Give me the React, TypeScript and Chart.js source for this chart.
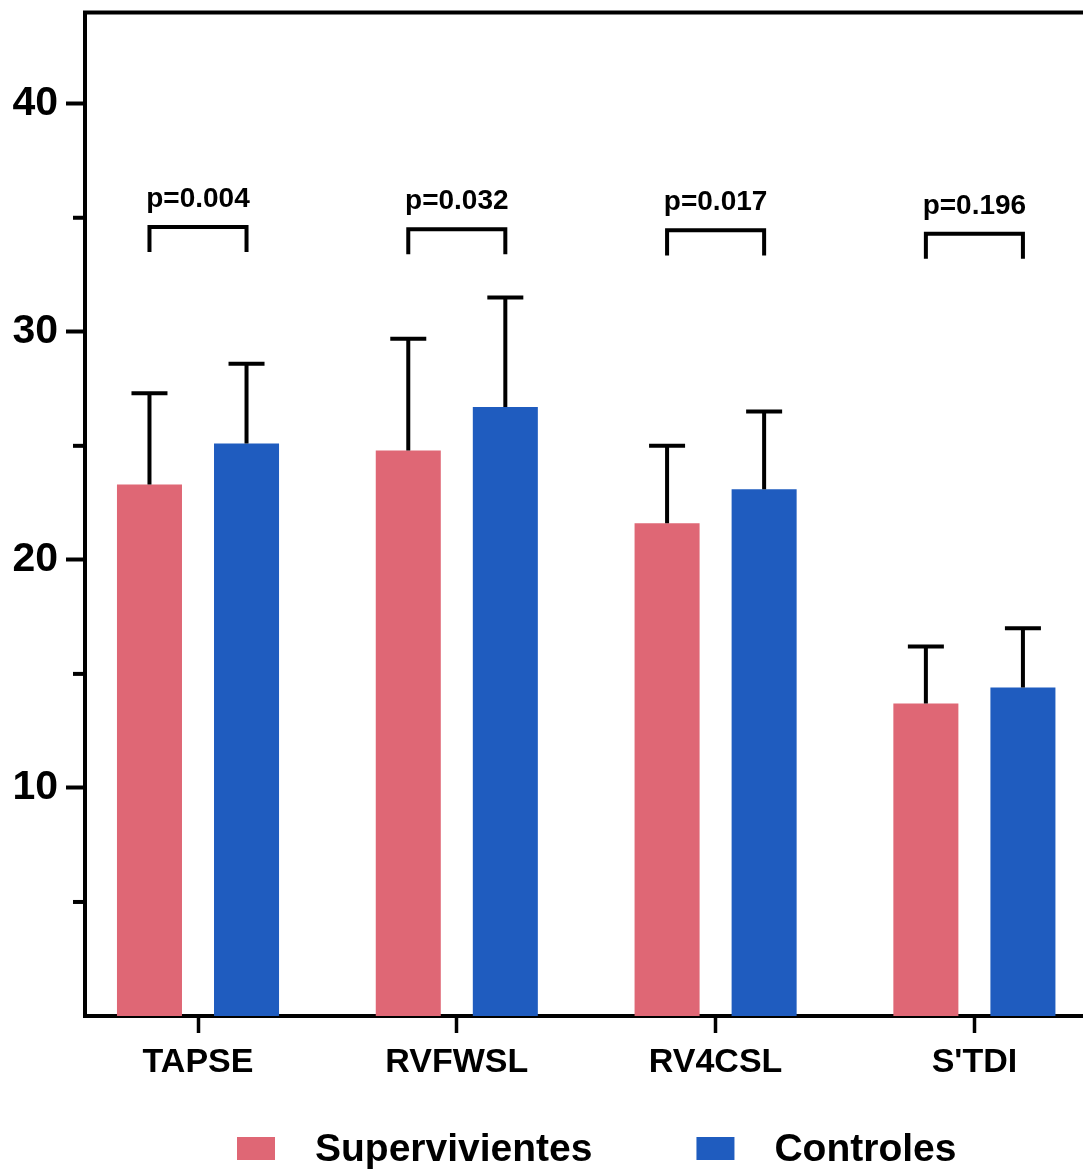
import React, { useEffect, useRef } from 'react';
import { Chart, registerables } from 'chart.js';

Chart.register(...registerables);

const categories = ['TAPSE', 'RVFWSL', 'RV4CSL', "S'TDI"];
const seriesNames = ['Supervivientes', 'Controles'];
const supervivientes = [23.3, 24.8, 21.6, 13.7];
const supervivientesSD = [4.0, 4.9, 3.4, 2.5];
const controles = [25.1, 26.7, 23.1, 14.4];
const controlesSD = [3.5, 4.8, 3.4, 2.6];
const pValues = ['p=0.004', 'p=0.032', 'p=0.017', 'p=0.196'];
const bracketLevels = [34.6, 34.5, 34.45, 34.3];
const bracketDrop = 1.1;
const yMajorTicks = [10, 20, 30, 40];
const yMinorTicks = [5, 15, 25, 35];
const categoryPositions = [0, 1, 2, 3];

const RED = '#DF6775';
const BLUE = '#1F5CBF';
const FONT = "'Liberation Sans', Arial, Helvetica, sans-serif";

const W = 1083;
const H = 1171;

const errorPlugin = {
  id: 'errorBars',
  afterDatasetsDraw(chart: any) {
    const ctx = chart.ctx;
    const yScale = chart.scales.y;
    const sds = [supervivientesSD, controlesSD];
    const vals = [supervivientes, controles];
    ctx.save();
    ctx.strokeStyle = '#000';
    ctx.lineWidth = 4;
    ctx.lineCap = 'butt';
    for (let d = 0; d < 2; d++) {
      const meta = chart.getDatasetMeta(d);
      meta.data.forEach((el: any, j: number) => {
        const x = el.x;
        const yTop = el.y;
        const yCap = yScale.getPixelForValue(vals[d][j] + sds[d][j]);
        ctx.beginPath();
        ctx.moveTo(x, yTop);
        ctx.lineTo(x, yCap);
        ctx.moveTo(x - 18, yCap);
        ctx.lineTo(x + 18, yCap);
        ctx.stroke();
      });
    }
    // significance brackets
    const m0 = chart.getDatasetMeta(0);
    const m1 = chart.getDatasetMeta(1);
    ctx.lineJoin = 'miter';
    ctx.font = `bold 28px ${FONT}`;
    ctx.fillStyle = '#000';
    ctx.textAlign = 'center';
    ctx.textBaseline = 'alphabetic';
    categories.forEach((_, j) => {
      const x0 = m0.data[j].x;
      const x1 = m1.data[j].x;
      const yb = yScale.getPixelForValue(bracketLevels[j]);
      const yl = yScale.getPixelForValue(bracketLevels[j] - bracketDrop);
      ctx.beginPath();
      ctx.moveTo(x0, yl);
      ctx.lineTo(x0, yb);
      ctx.lineTo(x1, yb);
      ctx.lineTo(x1, yl);
      ctx.stroke();
      ctx.fillText(pValues[j], (x0 + x1) / 2, yb - 20);
    });
    // top frame line
    const a = chart.chartArea;
    ctx.beginPath();
    ctx.moveTo(a.left - 2, a.top);
    ctx.lineTo(a.right, a.top);
    ctx.stroke();
    // minor y ticks
    yMinorTicks.forEach((v) => {
      const y = yScale.getPixelForValue(v);
      ctx.beginPath();
      ctx.moveTo(a.left - 12, y);
      ctx.lineTo(a.left, y);
      ctx.stroke();
    });
    ctx.restore();
  },
  afterDraw(chart: any) {
    const ctx = chart.ctx;
    ctx.save();
    ctx.font = `bold 39px ${FONT}`;
    ctx.textAlign = 'left';
    ctx.textBaseline = 'alphabetic';
    const colors = [RED, BLUE];
    let x = 237;
    seriesNames.forEach((name, i) => {
      ctx.fillStyle = colors[i];
      ctx.fillRect(x, 1137, 38, 23);
      ctx.fillStyle = '#000';
      const tx = x + 38 + 40;
      ctx.fillText(name, tx, 1161);
      x = tx + ctx.measureText(name).width + 104;
    });
    ctx.restore();
  },
};

export default function App() {
  const ref = useRef<HTMLCanvasElement | null>(null);
  useEffect(() => {
    if (!ref.current) return;
    Chart.defaults.font.family = FONT;
    const pxPerUnit = 258.8;
    const left = 85;
    const firstCenter = 198;
    const xMin = -(firstCenter - left) / pxPerUnit;
    const xMax = xMin + (W - left) / pxPerUnit;
    const chart = new Chart(ref.current, {
      type: 'bar',
      data: {
        datasets: [
          {
            label: seriesNames[0],
            data: categoryPositions.map((p, i) => ({ x: p, y: supervivientes[i] })),
            backgroundColor: RED,
            borderWidth: 0,
            categoryPercentage: 0.75,
            barPercentage: 0.67,
          },
          {
            label: seriesNames[1],
            data: categoryPositions.map((p, i) => ({ x: p, y: controles[i] })),
            backgroundColor: BLUE,
            borderWidth: 0,
            categoryPercentage: 0.75,
            barPercentage: 0.67,
          },
        ] as any,
      },
      options: {
        animation: false,
        responsive: false,
        devicePixelRatio: 1,
        layout: { padding: { top: 12.5, right: 0, bottom: 0, left: 0 } },
        plugins: {
          legend: { display: false },
          tooltip: { enabled: false },
        },
        scales: {
          x: {
            type: 'linear',
            offset: false,
            min: xMin,
            max: xMax,
            z: 1,
            afterBuildTicks: (scale: any) => {
              scale.ticks = categoryPositions.map((v) => ({ value: v }));
            },
            afterFit: (scale: any) => {
              scale.height = 155;
              scale.paddingLeft = 0;
              scale.paddingRight = 0;
            },
            grid: {
              display: true,
              drawOnChartArea: false,
              drawTicks: true,
              tickLength: 17,
              tickWidth: 3.5,
              tickColor: '#000',
              offset: false,
            },
            border: { display: true, width: 4, color: '#000' },
            ticks: {
              autoSkip: false,
              maxRotation: 0,
              padding: 9,
              color: '#000',
              font: { size: 34, weight: 'bold', family: FONT },
              callback: (v: any) => categories[Math.round(Number(v))] ?? '',
            },
          },
          y: {
            type: 'linear',
            min: 0,
            max: 44,
            z: 1,
            afterBuildTicks: (scale: any) => {
              scale.ticks = yMajorTicks.map((v) => ({ value: v }));
            },
            afterFit: (scale: any) => {
              scale.width = 85;
              scale.paddingTop = 0;
              scale.paddingBottom = 0;
            },
            grid: {
              display: true,
              drawOnChartArea: false,
              drawTicks: true,
              tickLength: 19,
              tickWidth: 4,
              tickColor: '#000',
            },
            border: { display: true, width: 4, color: '#000' },
            ticks: {
              padding: 8,
              color: '#000',
              font: { size: 41, weight: 'bold', family: FONT },
              callback: (v: any) => String(v),
            },
          },
        },
      } as any,
      plugins: [errorPlugin],
    });
    return () => chart.destroy();
  }, []);
  return (
    <div
      style={{
        position: 'absolute',
        left: 0,
        top: 0,
        width: W,
        height: H,
        overflow: 'hidden',
        background: '#fff',
      }}
    >
      <canvas ref={ref} width={W} height={H} style={{ width: W, height: H, display: 'block' }} />
    </div>
  );
}
